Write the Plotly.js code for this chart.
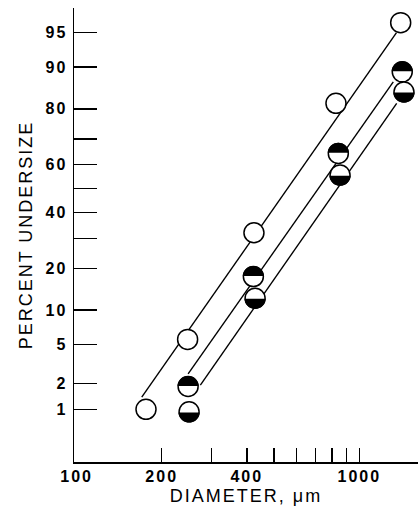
<!DOCTYPE html>
<html><head><meta charset="utf-8">
<script src="https://cdn.plot.ly/plotly-3.0.1.min.js"></script>
<style>
html,body{margin:0;padding:0;background:#fff;}
#chart{width:418px;height:506px;}
.xtick text,.ytick text{letter-spacing:2px;}
.xtitle,.ytitle{letter-spacing:2px;}
</style></head><body><div id="chart"></div>
<script>
// ---- data (diameter in µm, percent undersize) ----
const diamOpen   = [176, 247, 424, 827, 1401];
const pctOpen    = [1.0, 5.6, 32.1, 81.6, 96.0];
const diamTop    = [248, 422, 843, 1419];
const pctTop     = [1.85, 17.7, 64.5, 89.1];
const diamBottom = [250, 428, 855, 1439];
const pctBottom  = [0.93, 12.4, 55.7, 84.6];
// fitted lines (end points)
const fitOpenDiam   = [170, 1354];
const fitOpenPct    = [1.4, 95.0];
const fitTopDiam    = [248, 1319];
const fitTopPct     = [2.54, 87.0];
const fitBottomDiam = [274, 1356];
const fitBottomPct  = [1.92, 81.6];
// axis ticks
const yTickPct  = [1, 2, 5, 10, 20, 30, 40, 50, 60, 70, 80, 90, 95];
const yTickText = ['1', '2', '5', '10', '20', '', '40', '', '60', '', '80', '90', '95'];
const xLabelVals = [100, 200, 400, 1000];
const xLabelText = ['100', '200', '400', '1000'];
const xMinorVals = [200, 300, 400, 500, 600, 700, 800, 900, 1000];

// probability-scale transform (inverse normal CDF, Acklam)
function probit(pct) {
  const p = pct / 100;
  const a = [-3.969683028665376e+01, 2.209460984245205e+02, -2.759285104469687e+02, 1.383577518672690e+02, -3.066479806614716e+01, 2.506628277459239e+00];
  const b = [-5.447609879822406e+01, 1.615858368580409e+02, -1.556989798598866e+02, 6.680131188771972e+01, -1.328068155288572e+01];
  const c = [-7.784894002430293e-03, -3.223964580411365e-01, -2.400758277161838e+00, -2.549732539343734e+00, 4.374664141464968e+00, 2.938163982698783e+00];
  const d = [7.784695709041462e-03, 3.224671290700398e-01, 2.445134137142996e+00, 3.754408661907416e+00];
  const pl = 0.02425, ph = 1 - pl;
  let q, r;
  if (p < pl) {
    q = Math.sqrt(-2 * Math.log(p));
    return (((((c[0]*q+c[1])*q+c[2])*q+c[3])*q+c[4])*q+c[5]) / ((((d[0]*q+d[1])*q+d[2])*q+d[3])*q+1);
  } else if (p <= ph) {
    q = p - 0.5; r = q * q;
    return (((((a[0]*r+a[1])*r+a[2])*r+a[3])*r+a[4])*r+a[5])*q / (((((b[0]*r+b[1])*r+b[2])*r+b[3])*r+b[4])*r+1);
  } else {
    q = Math.sqrt(-2 * Math.log(1 - p));
    return -(((((c[0]*q+c[1])*q+c[2])*q+c[3])*q+c[4])*q+c[5]) / ((((d[0]*q+d[1])*q+d[2])*q+d[3])*q+1);
  }
}
const Z = arr => arr.map(probit);

const lineStyle = {color: '#000', width: 1.4};
const markerStyle = {symbol: 'circle', size: 20, color: '#fff', line: {color: '#000', width: 1.5}};

const traces = [
  {x: fitOpenDiam, y: Z(fitOpenPct), mode: 'lines', line: lineStyle, hoverinfo: 'skip'},
  {x: fitTopDiam, y: Z(fitTopPct), mode: 'lines', line: lineStyle, hoverinfo: 'skip'},
  {x: fitBottomDiam, y: Z(fitBottomPct), mode: 'lines', line: lineStyle, hoverinfo: 'skip'},
  {x: diamOpen, y: Z(pctOpen), mode: 'markers', marker: markerStyle},
  {x: diamTop, y: Z(pctTop), mode: 'markers', marker: markerStyle},
  {x: diamBottom, y: Z(pctBottom), mode: 'markers', marker: markerStyle}
];

// half-filled marker caps (pixel-sized, anchored at the data points)
function halfPath(up) {
  const R = 10.6, g = 0.6, n = 24;
  let s = '';
  for (let i = 0; i <= n; i++) {
    const a = Math.PI * i / n;
    const px = R * Math.cos(a);
    let py = R * Math.sin(a);
    if (py < g) py = g;
    s += (i === 0 ? 'M' : 'L') + px.toFixed(2) + ',' + ((up ? 1 : -1) * py).toFixed(2) + ' ';
  }
  return s + 'Z';
}
const shapes = [];
diamTop.forEach((d, i) => shapes.push({
  type: 'path', xref: 'x', yref: 'y', xsizemode: 'pixel', ysizemode: 'pixel',
  xanchor: d, yanchor: probit(pctTop[i]), path: halfPath(true),
  fillcolor: '#000', line: {width: 0}, layer: 'above'
}));
diamBottom.forEach((d, i) => shapes.push({
  type: 'path', xref: 'x', yref: 'y', xsizemode: 'pixel', ysizemode: 'pixel',
  xanchor: d, yanchor: probit(pctBottom[i]), path: halfPath(false),
  fillcolor: '#000', line: {width: 0}, layer: 'above'
}));

const font = 'Liberation Sans, Arial, Helvetica, sans-serif';
const layout = {
  width: 418, height: 506,
  margin: {l: 74, r: 0, t: 8, b: 44},
  paper_bgcolor: '#fff', plot_bgcolor: '#fff',
  showlegend: false,
  shapes: shapes,
  xaxis: {
    type: 'log', range: [1.9908, 3.2077],
    showgrid: false, zeroline: false,
    showline: true, linecolor: '#000', linewidth: 1.5,
    tickmode: 'array', tickvals: xLabelVals, ticktext: xLabelText,
    ticks: '', ticklabelstandoff: -1,
    tickfont: {family: font, size: 16, color: '#000', weight: 'bold'},
    minor: {tickmode: 'array', tickvals: xMinorVals, ticks: 'inside', ticklen: 14, tickwidth: 1.5, tickcolor: '#000', showgrid: false},
    title: {text: 'DIAMETER, μm', font: {family: font, size: 18, color: '#000'}, standoff: 17}
  },
  yaxis: {
    range: [-2.882, 1.905],
    showgrid: false, zeroline: false,
    showline: true, linecolor: '#000', linewidth: 1.5,
    tickmode: 'array', tickvals: Z(yTickPct), ticktext: yTickText,
    ticks: 'inside', ticklen: 23, tickwidth: 1.5, tickcolor: '#000',
    ticklabelstandoff: 2,
    tickfont: {family: font, size: 16, color: '#000', weight: 'bold'},
    title: {text: 'PERCENT UNDERSIZE', font: {family: font, size: 18, color: '#000'}, standoff: 8}
  }
};

Plotly.newPlot('chart', traces, layout, {displayModeBar: false, staticPlot: true});
</script></body></html>
